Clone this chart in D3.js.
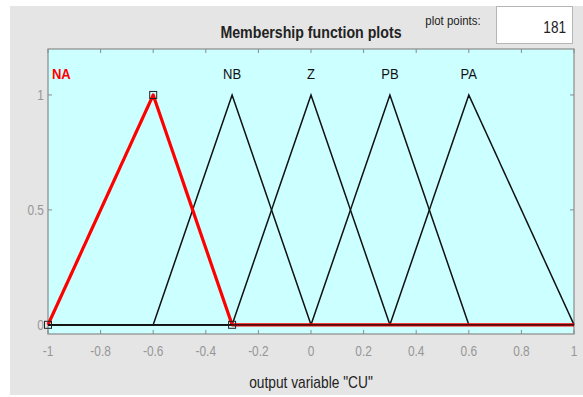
<!DOCTYPE html>
<html>
<head>
<meta charset="utf-8">
<script src="https://cdn.jsdelivr.net/npm/d3@7"></script>
<style>
  body { margin: 0; background: #fff; }
  svg { display: block; font-family: "Liberation Sans", Arial, sans-serif; }
</style>
</head>
<body>
<svg id="chart" width="583" height="397"></svg>
<script>
// membership functions of output variable "CU" (triangular, [a b c])
const mfNames = ["NA", "NB", "Z", "PB", "PA"];
const mfParams = [[-1, -0.6, -0.3], [-0.6, -0.3, 0], [-0.3, 0, 0.3], [0, 0.3, 0.6], [0.3, 0.6, 1]];
const labelX = [-0.985, -0.3, 0, 0.3, 0.6];
const selected = 0;
const plotPoints = 181;
const xTicks = [-1, -0.8, -0.6, -0.4, -0.2, 0, 0.2, 0.4, 0.6, 0.8, 1];
const yTicks = [0, 0.5, 1];

const svg = d3.select("#chart");
const boxL = 48, boxR = 574, boxT = 49, boxB = 334;

// window background
svg.append("rect").attr("x", 10).attr("y", 6).attr("width", 573).attr("height", 389).attr("fill", "#e5e5e5");

const x = d3.scaleLinear().domain([-1, 1]).range([boxL, boxR]);
const y = d3.scaleLinear().domain([-0.04, 1.2]).range([boxB, boxT]);

// axes box
svg.append("rect").attr("x", boxL).attr("y", boxT).attr("width", boxR - boxL).attr("height", boxB - boxT)
  .attr("fill", "#ccffff").attr("stroke", "#8a8a8a").attr("stroke-width", 1.2);

// ticks inside the box
const tickG = svg.append("g").attr("stroke", "#8a8a8a").attr("stroke-width", 1);
xTicks.forEach(t => {
  tickG.append("line").attr("x1", x(t)).attr("x2", x(t)).attr("y1", boxB).attr("y2", boxB - 4);
  tickG.append("line").attr("x1", x(t)).attr("x2", x(t)).attr("y1", boxT).attr("y2", boxT + 4);
});
yTicks.forEach(t => {
  tickG.append("line").attr("x1", boxL).attr("x2", boxL + 4).attr("y1", y(t)).attr("y2", y(t));
  tickG.append("line").attr("x1", boxR).attr("x2", boxR - 4).attr("y1", y(t)).attr("y2", y(t));
});

const condensed = (sel, cx, k) => sel.attr("transform", `translate(${cx},0) scale(${k},1) translate(${-cx},0)`);

svg.append("g").selectAll("text").data(xTicks).join("text")
  .attr("x", d => x(d)).attr("y", 356).attr("text-anchor", "middle")
  .attr("font-size", 14).attr("fill", "#969696")
  .each(function (d) { condensed(d3.select(this), x(d), 0.85); })
  .text(d => String(d));
svg.append("g").selectAll("text").data(yTicks).join("text")
  .attr("x", boxL - 4).attr("y", d => y(d) + 5).attr("text-anchor", "end")
  .attr("font-size", 14).attr("fill", "#969696")
  .each(function () { condensed(d3.select(this), boxL - 4, 0.85); })
  .text(d => d);

// membership curves
const xs = d3.range(plotPoints).map(i => -1 + 2 * i / (plotPoints - 1));
const trimf = (v, p) => Math.max(0, Math.min((v - p[0]) / (p[1] - p[0]), (p[2] - v) / (p[2] - p[1])));
const line = d3.line().x(d => x(d[0])).y(d => y(d[1]));

mfParams.forEach((p, i) => {
  if (i === selected) return;
  svg.append("path").datum(xs.map(v => [v, trimf(v, p)]))
    .attr("d", line).attr("fill", "none").attr("stroke", "#111").attr("stroke-width", 1.5);
});
svg.append("path").datum(xs.map(v => [v, trimf(v, mfParams[selected])]))
  .attr("d", line).attr("fill", "none").attr("stroke", "#ff0000").attr("stroke-width", 3.2)
  .attr("stroke-linejoin", "round");
// black baseline drawn by the other functions over the red one
svg.append("line").attr("x1", x(-1)).attr("x2", x(-0.3)).attr("y1", y(0)).attr("y2", y(0))
  .attr("stroke", "#111").attr("stroke-width", 1.5);
svg.append("line").attr("x1", x(-0.3)).attr("x2", x(1)).attr("y1", y(0)).attr("y2", y(0))
  .attr("stroke", "#111").attr("stroke-width", 1.2);

// vertex markers of the selected function
svg.append("g").selectAll("rect").data(mfParams[selected]).join("rect")
  .attr("x", d => x(d) - 3.5).attr("y", (d, i) => y(i === 1 ? 1 : 0) - 3.5)
  .attr("width", 7).attr("height", 7).attr("fill", "none")
  .attr("stroke", "#222").attr("stroke-width", 1);

// labels
svg.append("g").selectAll("text").data(mfNames).join("text")
  .attr("x", (d, i) => x(labelX[i])).attr("y", y(1.09) + 5)
  .attr("text-anchor", (d, i) => i === selected ? "start" : "middle")
  .attr("font-size", 14.5)
  .attr("font-weight", (d, i) => i === selected ? "bold" : "normal")
  .attr("fill", (d, i) => i === selected ? "#ff0000" : "#111")
  .each(function (d, i) { condensed(d3.select(this), x(labelX[i]), 0.9); })
  .text(d => d);

// header
condensed(svg.append("text").attr("x", 311).attr("y", 38).attr("text-anchor", "middle")
  .attr("font-size", 16.5).attr("font-weight", "bold").attr("fill", "#222"), 311, 0.86)
  .text("Membership function plots");
condensed(svg.append("text").attr("x", 453).attr("y", 25).attr("text-anchor", "middle")
  .attr("font-size", 13).attr("fill", "#222"), 453, 0.88).text("plot points:");
svg.append("rect").attr("x", 496.5).attr("y", 6.5).attr("width", 76).attr("height", 37)
  .attr("fill", "#fff").attr("stroke", "#b5b5b5");
condensed(svg.append("text").attr("x", 566).attr("y", 33).attr("text-anchor", "end")
  .attr("font-size", 16).attr("fill", "#222"), 566, 0.85).text(plotPoints);

condensed(svg.append("text").attr("x", 311).attr("y", 388).attr("text-anchor", "middle")
  .attr("font-size", 16).attr("fill", "#222"), 311, 0.86).text('output variable "CU"');
</script>
</body>
</html>
